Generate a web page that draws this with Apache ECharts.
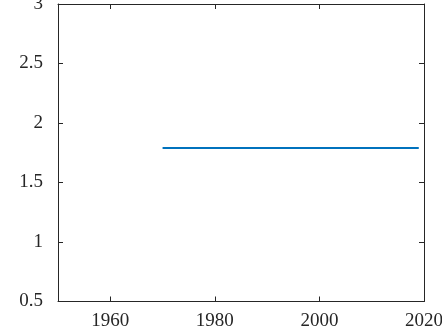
<!DOCTYPE html>
<html>
<head>
<meta charset="utf-8">
<script src="https://cdn.jsdelivr.net/npm/echarts@6/dist/echarts.min.js"></script>
<style>html,body{margin:0;padding:0;background:#fff;}#c{width:442px;height:334px;}</style>
</head>
<body>
<div id="c"></div>
<script>
var years = [1970, 2019];
var values = [1.79, 1.79];
var xTicks = [1960, 1980, 2000, 2020];
var yTicks = [0.5, 1, 1.5, 2, 2.5, 3];

var chart = echarts.init(document.getElementById('c'), null, {renderer: 'canvas'});
var font = 'Liberation Serif';
var axisCol = '#262626';
function xa(pos, showLabel) {
  return {
    type: 'value', position: pos, min: 1950, max: 2020,
    axisLine: {show: true, onZero: false, lineStyle: {color: axisCol, width: 1}},
    axisTick: {show: true, inside: true, length: 5, customValues: xTicks, lineStyle: {color: axisCol}},
    axisLabel: {show: showLabel, customValues: xTicks, formatter: function (v) { return String(v); }, color: '#262626', fontFamily: font, fontSize: 19, margin: 10, showMaxLabel: true, showMinLabel: true},
    splitLine: {show: false}
  };
}
function ya(pos, showLabel) {
  return {
    type: 'value', position: pos, min: 0.5, max: 3,
    axisLine: {show: true, onZero: false, lineStyle: {color: axisCol, width: 1}},
    axisTick: {show: true, inside: true, length: 5, customValues: yTicks, lineStyle: {color: axisCol}},
    axisLabel: {show: showLabel, customValues: yTicks, formatter: function (v) { return String(v); }, color: '#262626', fontFamily: font, fontSize: 19, margin: 15, showMaxLabel: true, showMinLabel: true},
    splitLine: {show: false}
  };
}
chart.setOption({
  animation: false,
  grid: {left: 58, right: 18, top: 4, bottom: 32.5, containLabel: false, outerBoundsMode: 'none'},
  xAxis: [xa('bottom', true), xa('top', false)],
  yAxis: [ya('left', true), ya('right', false)],
  series: [{
    type: 'line', xAxisIndex: 0, yAxisIndex: 0,
    data: years.map(function (y, i) { return [y, values[i]]; }),
    showSymbol: false, symbol: 'none',
    lineStyle: {color: '#0072BD', width: 2}
  }]
});
</script>
</body>
</html>
